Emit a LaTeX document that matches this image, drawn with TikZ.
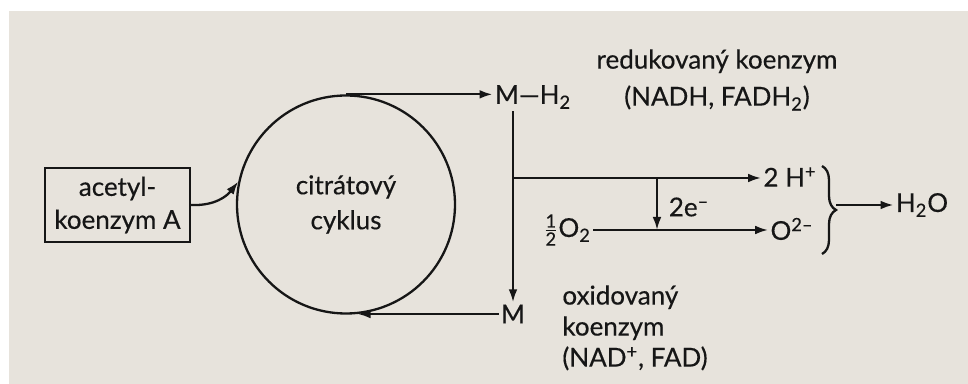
\documentclass[tikz,border=0pt]{standalone}
\usepackage{fontspec}
\setmainfont[FakeBold=0.35]{Lato}
\usepackage{amsmath}
\usetikzlibrary{arrows.meta,decorations.pathreplacing,calc}
\definecolor{Paper}{HTML}{E7E3DC}
\definecolor{Ink}{HTML}{161616}

\begin{document}
\begin{tikzpicture}[
  x=0.5pt, y=-0.5pt,
  every node/.style={font=\fontsize{13}{15.5}\selectfont, text=Ink},
  ln/.style={Ink, line width=1.15pt},
  arr/.style={ln, -{Latex[length=6.5pt,width=4.4pt]}},
  lbl/.style={inner sep=1pt},
  brc/.style={ln, decorate, decoration={brace, amplitude=7pt}}
]
% paper
\fill[white] (0,0) rectangle (968,384);
\fill[Paper] (9,11) rectangle (968,384);
\useasboundingbox (0,0) rectangle (968,384);

% cycle and substrate
\node[draw=Ink, line width=1.15pt, circle, minimum size=109pt, align=center] (cyc) at (346,204.5) {citrátový\\[2pt]cyklus};
\node[draw=Ink, line width=1.15pt, minimum width=72.5pt, minimum height=37pt, align=center] (acetyl) at (117.5,205) {acetyl-\\[1pt]koenzym A};

% coenzyme states
\node[lbl] (MH) at (533,97) {M—H\textsubscript{2}};
\node[lbl] (M) at (513,314) {M};
\node[lbl, align=center] (red) at (717,80) {redukovaný koenzym\\[3pt](NADH, FADH\textsubscript{2})};
\node[lbl, align=left, anchor=north west] (ox) at (560,283) {oxidovaný\\koenzym\\(NAD\textsuperscript{+}, FAD)};

% respiratory chain
\node[lbl] (Hp) at (790,177) {2 H\textsuperscript{+}};
\node[lbl] (Om) at (792,229) {O\textsuperscript{2–}};
\node[lbl] (half) at (567,230) {$\tfrac{\text{1}}{\text{2}}$O\textsubscript{2}};
\node[lbl] (el) at (689,207) {2e\textsuperscript{–}};
\node[lbl] (H2O) at (922,205) {H\textsubscript{2}O};

\coordinate (br) at (657,178);
\coordinate (bt) at (822,166);
\coordinate (bb) at (822,254);
\coordinate (btip) at (836,205);

% connectors
\draw[arr] (acetyl.east) .. controls (215,206) and (227,196) .. (cyc.168);
\draw[arr] (cyc.north) -- (cyc.north -| MH.west);
\draw[arr] (MH.south -| M.north) -- (M.north);
\draw[arr] (M.north |- br) -- (br -| Hp.west);
\draw[arr] (br) -- (br |- half.east);
\draw[arr] (half.east) -- (half.east -| Om.west);
\draw[arr] (M.west) -- (cyc.-84 |- M.west);
\draw[brc] (bt) -- (bb);
\draw[arr] (btip) -- (btip -| H2O.west);
\end{tikzpicture}
\end{document}
